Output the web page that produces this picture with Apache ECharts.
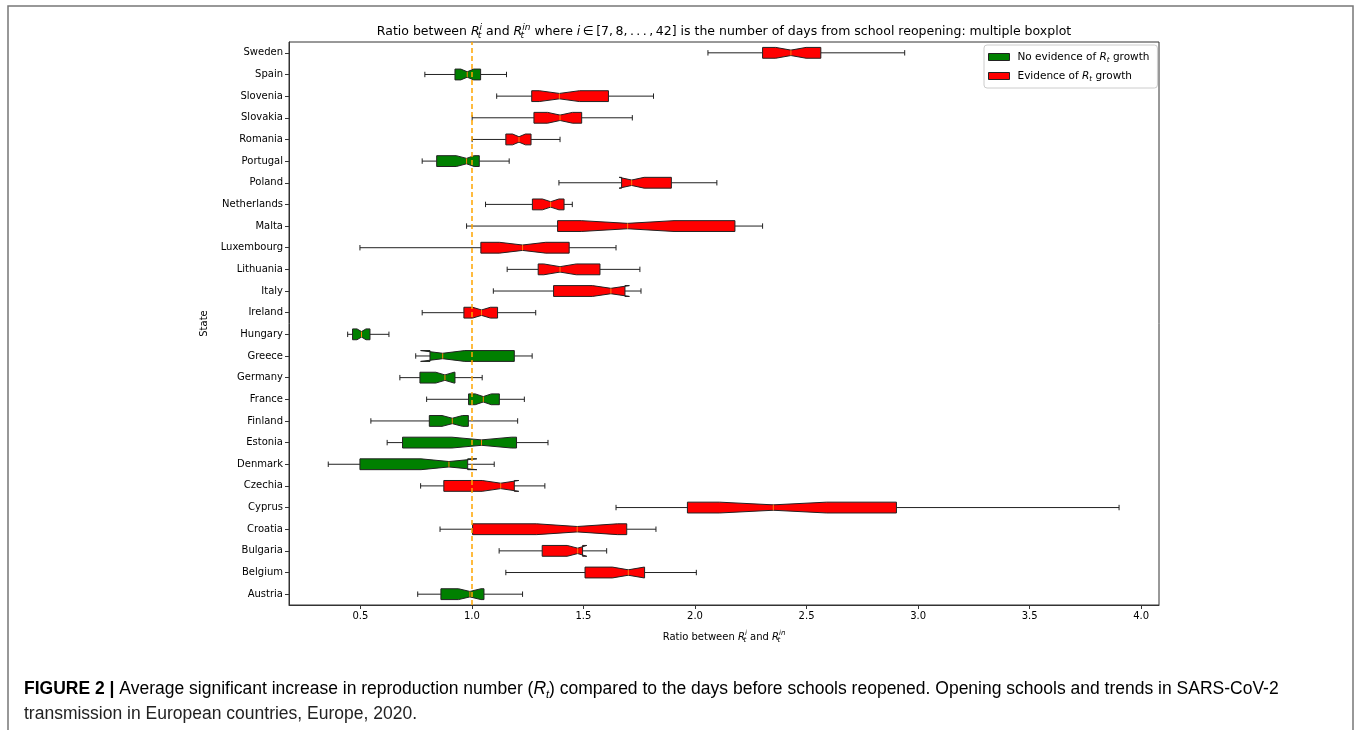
<!DOCTYPE html>
<html>
<head>
<meta charset="utf-8">
<script src="https://cdn.jsdelivr.net/npm/echarts@6/dist/echarts.min.js"></script>
<style>
html,body{margin:0;padding:0;background:#fff;}
#main{width:1356px;height:730px;}
</style>
</head>
<body>
<div id="main"></div>
<script>
// states from bottom (Austria) to top (Sweden)
var states = ['Austria','Belgium','Bulgaria','Croatia','Cyprus','Czechia','Denmark','Estonia','Finland','France','Germany','Greece','Hungary','Ireland','Italy','Lithuania','Luxembourg','Malta','Netherlands','Poland','Portugal','Romania','Slovakia','Slovenia','Spain','Sweden'];
var whiskerLow  = [0.757,1.152,1.122,0.857,1.646,0.770,0.356,0.620,0.547,0.797,0.677,0.748,0.443,0.777,1.096,1.158,0.498,0.976,1.061,1.390,0.777,1.001,1.001,1.111,0.789,2.058];
var q1          = [0.861,1.507,1.315,1.003,1.966,0.874,0.498,0.689,0.809,0.985,0.767,0.812,0.465,0.964,1.366,1.297,1.040,1.384,1.271,1.671,0.842,1.152,1.278,1.268,0.924,2.303];
var median      = [0.991,1.701,1.474,1.472,2.351,1.129,0.897,1.043,0.912,1.051,0.879,0.869,0.505,1.043,1.623,1.395,1.227,1.698,1.353,1.716,0.976,1.211,1.395,1.392,0.979,2.430];
var q3          = [1.054,1.774,1.496,1.694,2.903,1.190,0.981,1.200,0.984,1.123,0.924,1.190,0.543,1.115,1.686,1.574,1.436,2.179,1.413,1.894,1.033,1.265,1.492,1.612,1.039,2.564];
var whiskerHigh = [1.227,2.006,1.604,1.825,3.901,1.327,1.100,1.341,1.205,1.235,1.046,1.270,0.628,1.286,1.758,1.753,1.646,2.303,1.450,2.098,1.167,1.395,1.719,1.814,1.155,2.940];
var notchLow    = [0.940,1.630,1.427,1.290,2.110,1.046,0.772,0.910,0.866,1.015,0.838,0.770,0.485,1.003,1.540,1.322,1.123,1.490,1.316,1.660,0.930,1.182,1.339,1.302,0.950,2.362];
var notchHigh   = [1.040,1.772,1.515,1.653,2.590,1.210,1.022,1.177,0.958,1.087,0.920,0.968,0.525,1.083,1.706,1.468,1.331,1.906,1.390,1.772,1.010,1.240,1.451,1.482,1.008,2.498];
// 1 = evidence of Rt growth (red), 0 = no evidence (green)
var growth      = [0,1,1,1,1,1,0,0,0,0,0,0,0,1,1,1,1,1,1,1,0,1,1,1,0,1];
var xTicks = [0.5,1.0,1.5,2.0,2.5,3.0,3.5,4.0];

var FONT = 'DejaVu Sans';
var LINE = '#222';

function buildData(flag){
    var out = [];
    for(var i=0;i<states.length;i++){
        if(growth[i]!==flag) continue;
        out.push([i, whiskerLow[i], q1[i], median[i], q3[i], whiskerHigh[i], notchLow[i], notchHigh[i]]);
    }
    return out;
}

// notched box like matplotlib bxp(notch=True, vert=False)
function renderBox(params, api){
    var yi = api.value(0);
    var band = api.size([0,1])[1];
    var h = band*0.25;
    var cy = api.coord([1, yi])[1];
    function px(v){ return api.coord([v, yi])[0]; }
    var wl=px(api.value(1)), b1=px(api.value(2)), md=px(api.value(3)), b3=px(api.value(4)),
        wh=px(api.value(5)), nl=px(api.value(6)), nh=px(api.value(7));
    var fill = api.visual('color');
    var ln = {stroke: LINE, lineWidth: 1};
    return {
        type:'group',
        children:[
            {type:'line', shape:{x1:wl,y1:cy,x2:b1,y2:cy}, style:ln},
            {type:'line', shape:{x1:b3,y1:cy,x2:wh,y2:cy}, style:ln},
            {type:'line', shape:{x1:wl,y1:cy-h/2,x2:wl,y2:cy+h/2}, style:ln},
            {type:'line', shape:{x1:wh,y1:cy-h/2,x2:wh,y2:cy+h/2}, style:ln},
            {type:'polygon', shape:{points:[
                [b1,cy-h],[b1,cy+h],[nl,cy+h],[md,cy+h/2],[nh,cy+h],[b3,cy+h],
                [b3,cy-h],[nh,cy-h],[md,cy-h/2],[nl,cy-h]
            ]}, style:{fill:fill, stroke:LINE, lineWidth:1}},
            {type:'line', shape:{x1:md,y1:cy-h/2,x2:md,y2:cy+h/2}, style:{stroke:'#ff7f0e', lineWidth:1}}
        ]
    };
}

// rich styles for R_t^i style math: sb is zero width so sp stacks above it, st is a plain subscript
function mathRich(base){
    var small = Math.round(base*0.7);
    var lh = Math.round(base*0.8);
    return {
        r:{fontFamily:FONT, fontStyle:'italic', fontSize:base, color:'#000'},
        sb:{fontFamily:FONT, fontStyle:'italic', fontSize:small, verticalAlign:'bottom', lineHeight:lh, width:0.01, color:'#000'},
        st:{fontFamily:FONT, fontStyle:'italic', fontSize:small, verticalAlign:'bottom', lineHeight:lh, color:'#000'},
        sp:{fontFamily:FONT, fontStyle:'italic', fontSize:small, verticalAlign:'top', lineHeight:lh, color:'#000'},
        n:{fontFamily:FONT, fontSize:base, color:'#000'}
    };
}

var NAME_NO = 'No evidence of R_t growth';
var NAME_YES = 'Evidence of R_t growth';

var myChart = echarts.init(document.getElementById('main'));
var option = {
    backgroundColor:'#fff',
    animation:false,
    grid:{left:289, right:197, top:42, bottom:125, show:true, borderColor:'#333', borderWidth:1},
    legend:{
        data:[NAME_NO, NAME_YES],
        orient:'vertical',
        left:984, top:45,
        icon:'rect', itemWidth:21, itemHeight:7, itemGap:5,
        padding:[5,8,5,4],
        borderColor:'#ccc', borderWidth:1, borderRadius:3, backgroundColor:'rgba(255,255,255,0.8)',
        itemStyle:{borderColor:LINE, borderWidth:1},
        textStyle:{fontFamily:FONT, fontSize:10.5, color:'#000', lineHeight:14, padding:[0,0,0,3], rich:mathRich(10.5)},
        formatter:function(name){
            return '{n|' + name.replace('R_t', '}{r|R}{st|t}{n|') + '}';
        }
    },
    graphic:[
        {type:'rect', shape:{x:8, y:6, width:1345, height:740}, style:{fill:null, stroke:'#777', lineWidth:1.5}, silent:true},
        {type:'text', x:724, y:32, style:{
            text:'{n|Ratio between }{r|R}{sb|t}{sp|i}{n| and }{r|R}{sb|t}{sp|in}{n| where }{r|i}{n|\u2009\u2208\u2009[7,\u20098,\u2009.\u2009.\u2009.\u2009,\u200942] is the number of days from school reopening: multiple boxplot}',
            rich:mathRich(12.5), align:'center', verticalAlign:'middle', lineHeight:17
        }},
        {type:'text', x:24, y:689, style:{
            text:'{b|FIGURE 2 |}{t| Average significant increase in reproduction number (}{i|R}{s|t}{t|) compared to the days before schools reopened. Opening schools and trends in SARS-CoV-2}',
            verticalAlign:'middle', lineHeight:22,
            rich:{
                b:{fontFamily:'Liberation Sans', fontWeight:'bold', fontSize:17.5, color:'#111'},
                t:{fontFamily:'Liberation Sans', fontSize:17.5, color:'#222'},
                i:{fontFamily:'Liberation Sans', fontStyle:'italic', fontSize:17.5, color:'#222'},
                s:{fontFamily:'Liberation Sans', fontStyle:'italic', fontSize:11, color:'#222', verticalAlign:'bottom', lineHeight:12}
            }
        }},
        {type:'text', x:24, y:714, style:{
            text:'transmission in European countries, Europe, 2020.',
            fontFamily:'Liberation Sans', fontSize:17.5, fill:'#222', verticalAlign:'middle'
        }}
    ],
    xAxis:{
        type:'value', min:0.18, max:4.08,
        name:'{n|Ratio between }{r|R}{sb|t}{sp|i}{n| and }{r|R}{sb|t}{sp|in}',
        nameLocation:'middle', nameGap:25,
        nameTextStyle:{fontFamily:FONT, fontSize:10, color:'#000', lineHeight:14, rich:mathRich(10)},
        splitLine:{show:false},
        axisLine:{show:true, lineStyle:{color:'#333', width:1}},
        axisTick:{show:true, length:4, lineStyle:{color:'#333'}, customValues:xTicks},
        axisLabel:{fontFamily:FONT, fontSize:10, color:'#000', margin:6, customValues:xTicks,
            formatter:function(v){ return v.toFixed(1); }}
    },
    yAxis:{
        type:'category', data:states,
        name:'State', nameLocation:'middle', nameRotate:90, nameGap:76,
        nameTextStyle:{fontFamily:FONT, fontSize:10, color:'#000'},
        axisLine:{show:true, lineStyle:{color:'#333', width:1}},
        axisTick:{show:true, alignWithLabel:true, length:4, lineStyle:{color:'#333'}},
        axisLabel:{fontFamily:FONT, fontSize:10, color:'#000', margin:6},
        splitLine:{show:false}
    },
    series:[
        {
            name:NAME_NO, type:'custom', renderItem:renderBox,
            itemStyle:{color:'#008000'},
            encode:{x:[1,2,3,4,5,6,7], y:0},
            data:buildData(0), z:3
        },
        {
            name:NAME_YES, type:'custom', renderItem:renderBox,
            itemStyle:{color:'#ff0000'},
            encode:{x:[1,2,3,4,5,6,7], y:0},
            data:buildData(1), z:3
        },
        {
            // vertical reference at ratio 1
            name:'ref', type:'line', data:[], z:5,
            markLine:{
                silent:true, symbol:['none','none'], label:{show:false},
                lineStyle:{color:'#ffa500', type:[5,3], width:1.5},
                data:[{xAxis:1}]
            }
        }
    ]
};
myChart.setOption(option);
</script>
</body>
</html>
